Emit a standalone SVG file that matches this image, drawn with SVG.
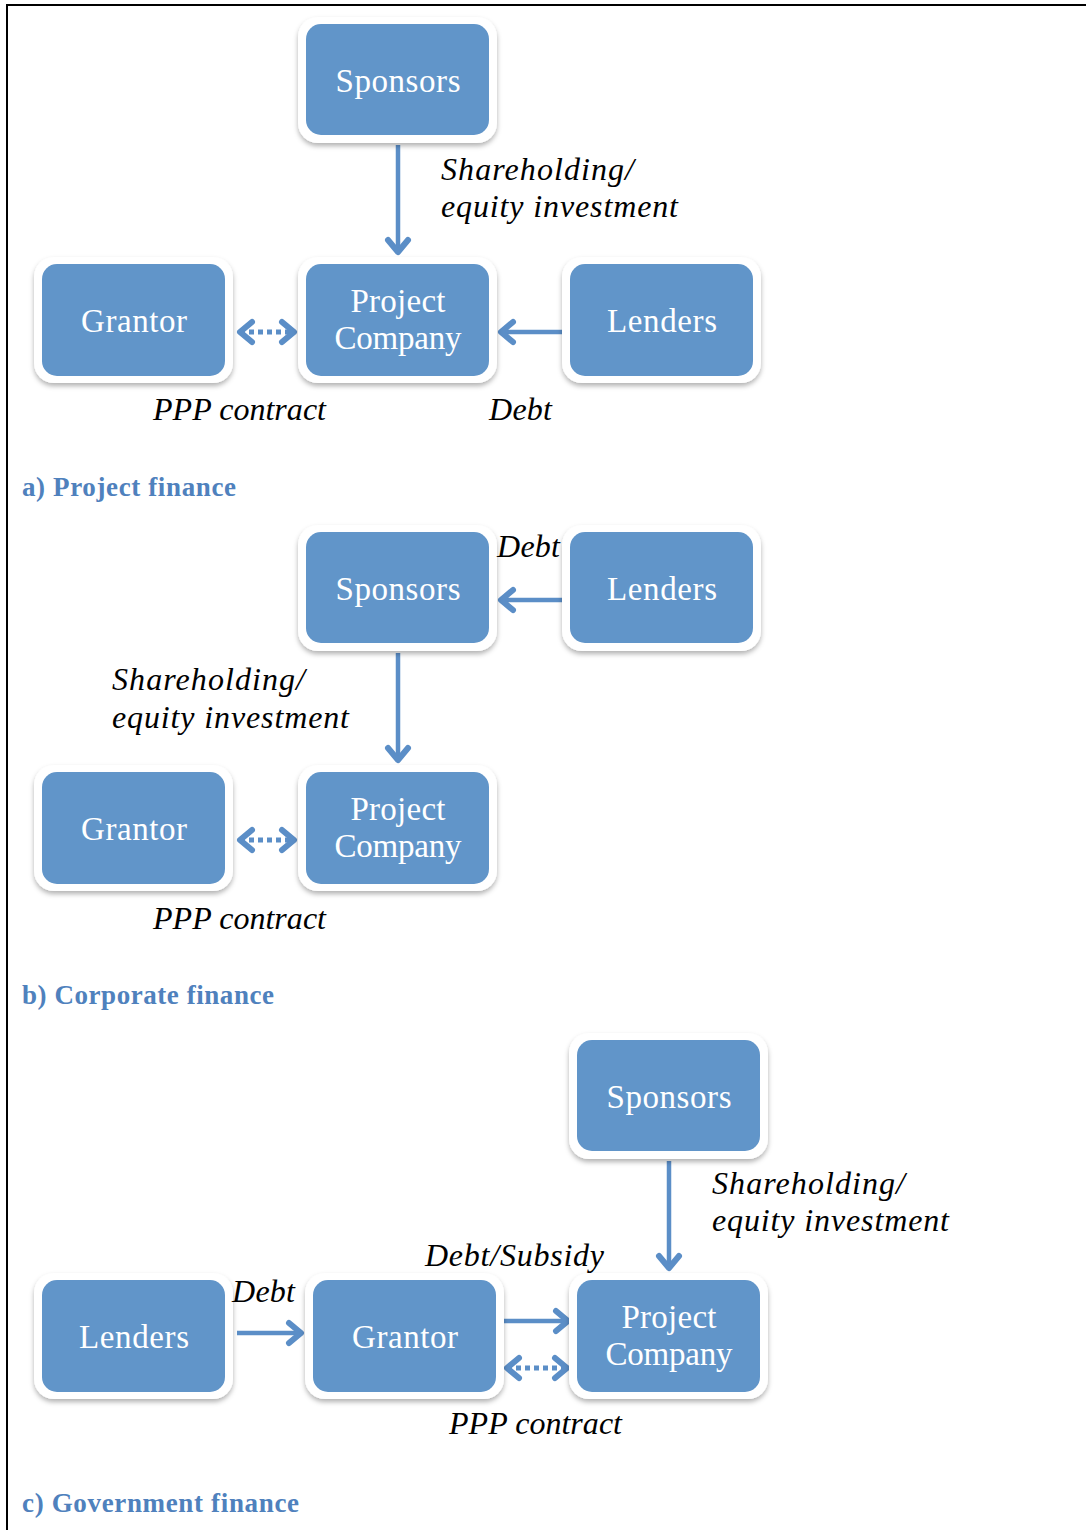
<svg xmlns="http://www.w3.org/2000/svg" width="1087" height="1530" viewBox="0 0 1087 1530">
<style>
.frame{fill:#fff;filter:url(#sh)}
.box{fill:#6195c9}
.nt{font-family:"Liberation Serif",serif;font-size:33px;fill:#fff;text-anchor:middle}
.lb{font-family:"Liberation Serif",serif;font-size:32px;font-style:italic;fill:#000}
.hd{font-family:"Liberation Serif",serif;font-size:27px;font-weight:bold;fill:#4f81bd}
.ln{stroke:#5b8ec7;stroke-width:4.5;fill:none}
.dot{stroke:#5b8ec7;stroke-width:5;fill:none;stroke-dasharray:5 4}
</style>
<defs>
<filter id="sh" x="-10%" y="-10%" width="120%" height="130%">
<feDropShadow dx="0" dy="3" stdDeviation="2.5" flood-color="#000" flood-opacity="0.3"/>
</filter>
<marker id="ah" markerUnits="userSpaceOnUse" orient="auto-start-reverse" refX="0" refY="0" viewBox="-16 -14 20 28" markerWidth="20" markerHeight="28" overflow="visible">
<path d="M-12,-10 L0,0 L-12,10" fill="none" stroke="#5b8ec7" stroke-width="6" stroke-linecap="round" stroke-linejoin="round"/>
</marker>
</defs>
<rect width="1087" height="1530" fill="#fff"/>
<path d="M7,1530 V5 H1086" fill="none" stroke="#000" stroke-width="2"/>

<g id="connectors">
<line class="ln" x1="398" y1="145" x2="398" y2="252" marker-end="url(#ah)"/>
<line class="dot" x1="240" y1="332" x2="294" y2="332" marker-start="url(#ah)" marker-end="url(#ah)"/>
<line class="ln" x1="562" y1="332" x2="501" y2="332" marker-end="url(#ah)"/>

<line class="ln" x1="562" y1="600" x2="501" y2="600" marker-end="url(#ah)"/>
<line class="ln" x1="398" y1="653" x2="398" y2="760" marker-end="url(#ah)"/>
<line class="dot" x1="240" y1="840" x2="294" y2="840" marker-start="url(#ah)" marker-end="url(#ah)"/>

<line class="ln" x1="669" y1="1161" x2="669" y2="1268" marker-end="url(#ah)"/>
<line class="ln" x1="237" y1="1333" x2="301" y2="1333" marker-end="url(#ah)"/>
<line class="ln" x1="502" y1="1321" x2="568" y2="1321" marker-end="url(#ah)"/>
<line class="dot" x1="507" y1="1368" x2="567" y2="1368" marker-start="url(#ah)" marker-end="url(#ah)"/>
</g>

<g id="a-sponsors"><rect class="frame" x="298" y="17" width="199" height="126" rx="20"/><rect class="box" x="306" y="24" width="183" height="111" rx="15"/><text class="nt" x="398" y="92" textLength="125">Sponsors</text></g>
<g id="a-grantor"><rect class="frame" x="34" y="257" width="199" height="126" rx="20"/><rect class="box" x="42" y="264" width="183" height="112" rx="15"/><text class="nt" x="134" y="332" textLength="106">Grantor</text></g>
<g id="a-project"><rect class="frame" x="298" y="257" width="199" height="126" rx="20"/><rect class="box" x="306" y="264" width="183" height="112" rx="15"/><text class="nt" x="398" y="312" textLength="95">Project</text><text class="nt" x="398" y="349" textLength="127">Company</text></g>
<g id="a-lenders"><rect class="frame" x="562" y="257" width="199" height="126" rx="20"/><rect class="box" x="570" y="264" width="183" height="112" rx="15"/><text class="nt" x="662" y="332" textLength="110">Lenders</text></g>

<g id="b-sponsors"><rect class="frame" x="298" y="525" width="199" height="126" rx="20"/><rect class="box" x="306" y="532" width="183" height="111" rx="15"/><text class="nt" x="398" y="600" textLength="125">Sponsors</text></g>
<g id="b-lenders"><rect class="frame" x="562" y="525" width="199" height="126" rx="20"/><rect class="box" x="570" y="532" width="183" height="111" rx="15"/><text class="nt" x="662" y="600" textLength="110">Lenders</text></g>
<g id="b-grantor"><rect class="frame" x="34" y="765" width="199" height="126" rx="20"/><rect class="box" x="42" y="772" width="183" height="112" rx="15"/><text class="nt" x="134" y="840" textLength="106">Grantor</text></g>
<g id="b-project"><rect class="frame" x="298" y="765" width="199" height="126" rx="20"/><rect class="box" x="306" y="772" width="183" height="112" rx="15"/><text class="nt" x="398" y="820" textLength="95">Project</text><text class="nt" x="398" y="857" textLength="127">Company</text></g>

<g id="c-sponsors"><rect class="frame" x="569" y="1033" width="199" height="126" rx="20"/><rect class="box" x="577" y="1040" width="183" height="111" rx="15"/><text class="nt" x="669" y="1108" textLength="125">Sponsors</text></g>
<g id="c-lenders"><rect class="frame" x="34" y="1273" width="199" height="126" rx="20"/><rect class="box" x="42" y="1280" width="183" height="112" rx="15"/><text class="nt" x="134" y="1348" textLength="110">Lenders</text></g>
<g id="c-grantor"><rect class="frame" x="305" y="1273" width="199" height="126" rx="20"/><rect class="box" x="313" y="1280" width="183" height="112" rx="15"/><text class="nt" x="405" y="1348" textLength="106">Grantor</text></g>
<g id="c-project"><rect class="frame" x="569" y="1273" width="199" height="126" rx="20"/><rect class="box" x="577" y="1280" width="183" height="112" rx="15"/><text class="nt" x="669" y="1328" textLength="95">Project</text><text class="nt" x="669" y="1365" textLength="127">Company</text></g>

<g id="labels">
<text class="lb" x="441" y="180" textLength="193">Shareholding/</text>
<text class="lb" x="441" y="217" textLength="237">equity investment</text>
<text class="lb" x="153" y="420" textLength="173">PPP contract</text>
<text class="lb" x="489" y="420" textLength="63">Debt</text>
<text class="hd" x="22" y="496" textLength="214">a) Project finance</text>

<text class="lb" x="497" y="557" textLength="63">Debt</text>
<text class="lb" x="112" y="690" textLength="193">Shareholding/</text>
<text class="lb" x="112" y="728" textLength="237">equity investment</text>
<text class="lb" x="153" y="929" textLength="173">PPP contract</text>
<text class="hd" x="22" y="1004" textLength="252">b) Corporate finance</text>

<text class="lb" x="712" y="1194" textLength="193">Shareholding/</text>
<text class="lb" x="712" y="1231" textLength="237">equity investment</text>
<text class="lb" x="425" y="1266" textLength="179">Debt/Subsidy</text>
<text class="lb" x="232" y="1302" textLength="63">Debt</text>
<text class="lb" x="449" y="1434" textLength="173">PPP contract</text>
<text class="hd" x="22" y="1512" textLength="277">c) Government finance</text>
</g>
</svg>
